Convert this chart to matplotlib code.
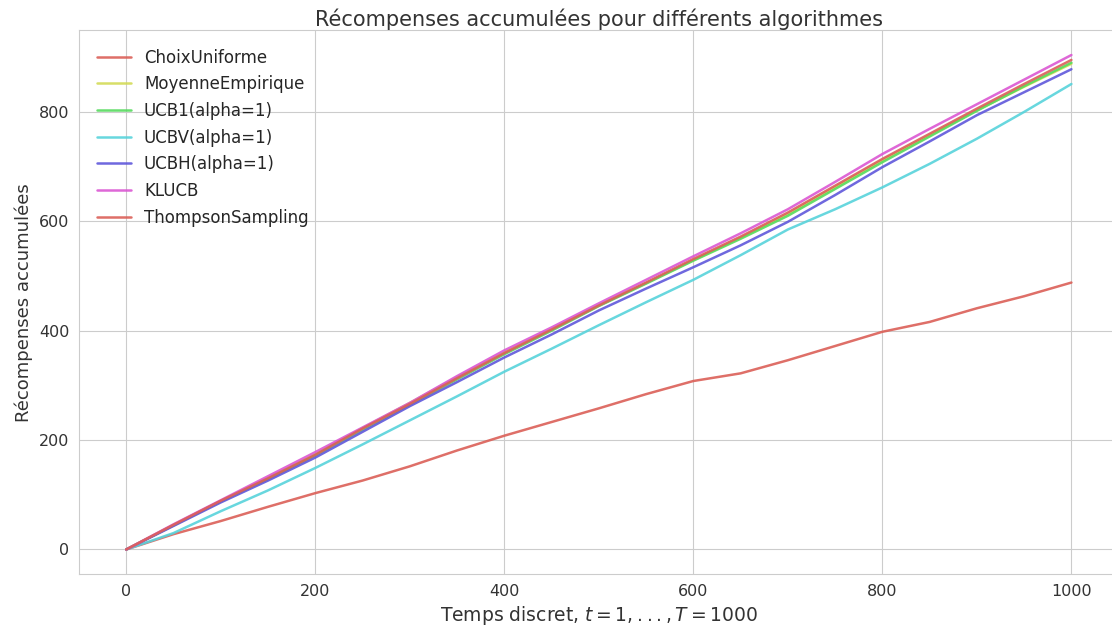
import matplotlib
matplotlib.use("Agg")
import matplotlib.pyplot as plt
import seaborn as sns

sns.set_style("whitegrid")
plt.rcParams['font.family'] = ['DejaVu Sans']

# temps discret où les récompenses cumulées ont été relevées
t = [0, 50, 100, 150, 200, 250, 300, 350, 400, 450, 500,
     550, 600, 650, 700, 750, 800, 850, 900, 950, 1000]

choix_uniforme = [0, 28, 52, 78, 103, 126, 152, 181, 208, 233, 258,
                  284, 308, 322, 346, 372, 398, 416, 441, 463, 488]
moyenne_empirique = [0, 45, 89, 131, 174, 222, 268, 315, 360, 402, 446,
                     487, 529, 570, 613, 662, 711, 757, 803, 846, 888]
ucb1 = [0, 44, 88, 129, 172, 219, 265, 311, 357, 400, 445,
        486, 528, 568, 610, 659, 708, 755, 802, 847, 890]
ucbv = [0, 30, 70, 108, 149, 192, 236, 280, 325, 367, 410,
        452, 493, 538, 585, 622, 662, 705, 751, 800, 851]
ucbh = [0, 43, 86, 126, 168, 215, 262, 306, 351, 393, 437,
        477, 516, 556, 599, 648, 699, 746, 794, 836, 878]
klucb = [0, 46, 90, 134, 178, 223, 268, 317, 364, 406, 450,
         493, 536, 578, 622, 672, 723, 769, 814, 859, 904]
thompson = [0, 45, 89, 130, 173, 221, 266, 313, 359, 402, 446,
            488, 531, 572, 616, 665, 714, 760, 806, 851, 895]

noms = ["ChoixUniforme", "MoyenneEmpirique", "UCB1(alpha=1)", "UCBV(alpha=1)",
        "UCBH(alpha=1)", "KLUCB", "ThompsonSampling"]
series = [choix_uniforme, moyenne_empirique, ucb1, ucbv, ucbh, klucb, thompson]

couleurs = sns.color_palette("hls", 6)

fig = plt.figure(figsize=(11.12, 6.31), dpi=100)
ax = fig.add_axes([0.071, 0.09, 0.935, 0.862])

for i, (nom, y) in enumerate(zip(noms, series)):
    ax.plot(t, y, color=couleurs[i % 6], lw=1.8, alpha=0.9, label=nom)

ax.set_xlabel(r"Temps discret, $t = 1, ..., T = 1000$", fontsize=13.5, color="#333333")
ax.set_ylabel("Récompenses accumulées", fontsize=13, color="#333333")
ax.set_title("Récompenses accumulées pour différents algorithmes", fontsize=15,
             color="#333333", pad=3)
ax.set_xticks([0, 200, 400, 600, 800, 1000])
ax.set_yticks([0, 200, 400, 600, 800])
ax.tick_params(labelsize=11.5, colors="#333333")
ax.legend(loc="upper left", fontsize=12, frameon=False, labelspacing=0.52,
          borderaxespad=0.7)

fig.savefig("out.png", dpi=100)
